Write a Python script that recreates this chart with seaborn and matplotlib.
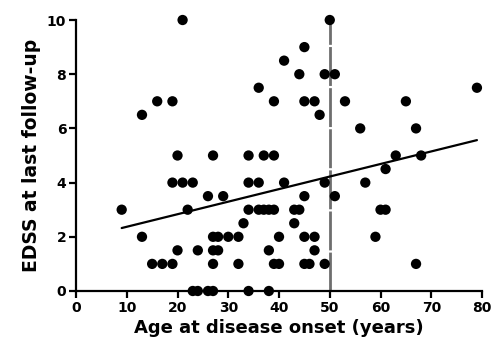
import matplotlib
matplotlib.use("Agg")
import matplotlib.pyplot as plt
import seaborn as sns
import pandas as pd

# Data (age at onset, EDSS at last follow-up)
edss_levels = [10, 9, 8.5, 8, 7.5, 7, 6.5, 6, 5, 4.5, 4, 3.5, 3, 2.5, 2, 1.5, 1, 0]
ages_by_level = [
    [21, 50],
    [45],
    [41],
    [44, 49, 51],
    [36, 79],
    [16, 19, 39, 45, 47, 53, 65],
    [13, 48],
    [56, 67],
    [20, 27, 34, 37, 39, 63, 68],
    [61],
    [19, 21, 23, 34, 36, 41, 49, 57],
    [26, 29, 45, 51],
    [9, 22, 34, 36, 37, 38, 39, 43, 44, 60, 61],
    [33, 43],
    [13, 27, 28, 30, 32, 40, 45, 47, 59],
    [20, 24, 27, 28, 38, 47],
    [15, 17, 19, 27, 32, 39, 40, 45, 46, 49, 67],
    [23, 24, 26, 27, 34, 38],
]
cutoff_age = 50
x_ticks = [0, 10, 20, 30, 40, 50, 60, 70, 80]
y_ticks = [0, 2, 4, 6, 8, 10]

ages, scores = [], []
for lvl, ag in zip(edss_levels, ages_by_level):
    for a in ag:
        ages.append(a)
        scores.append(lvl)
df = pd.DataFrame({"age": ages, "edss": scores})

sns.set_style("ticks")
plt.rcParams["font.family"] = ["DejaVu Sans"]
plt.rcParams["font.weight"] = "bold"
plt.rcParams["text.color"] = "black"
plt.rcParams["axes.labelcolor"] = "black"
plt.rcParams["xtick.color"] = "black"
plt.rcParams["ytick.color"] = "black"

fig = plt.figure(figsize=(4.92, 3.56), dpi=100)
ax = fig.add_axes([0.1545, 0.1826, 0.8252, 0.7612])

ax.axvline(cutoff_age, color="#6e6e6e", lw=2.0, dashes=(14, 0.8), zorder=1)
sns.regplot(data=df, x="age", y="edss", ax=ax, scatter=False, ci=None,
            line_kws=dict(color="black", lw=1.6, zorder=2))
sns.scatterplot(data=df, x="age", y="edss", ax=ax, color="black", s=55,
                edgecolor="none", clip_on=False, zorder=3)

ax.set_xlim(0, 80)
ax.set_ylim(0, 10)
ax.set_xticks(x_ticks)
ax.set_yticks(y_ticks)
ax.tick_params(axis="both", direction="out", length=5, width=1.6,
               labelsize=10, color="black", labelcolor="black", pad=2)
for lab in ax.get_xticklabels() + ax.get_yticklabels():
    lab.set_fontweight("bold")
for s in ["left", "bottom"]:
    ax.spines[s].set_linewidth(1.6)
    ax.spines[s].set_color("black")
sns.despine(ax=ax)
ax.set_xlabel("Age at disease onset (years)", fontsize=13, fontweight="bold",
              labelpad=3, color="black")
ax.set_ylabel("EDSS at last follow-up", fontsize=13.5, fontweight="bold",
              labelpad=4, color="black")

fig.savefig("out.png", dpi=100)
